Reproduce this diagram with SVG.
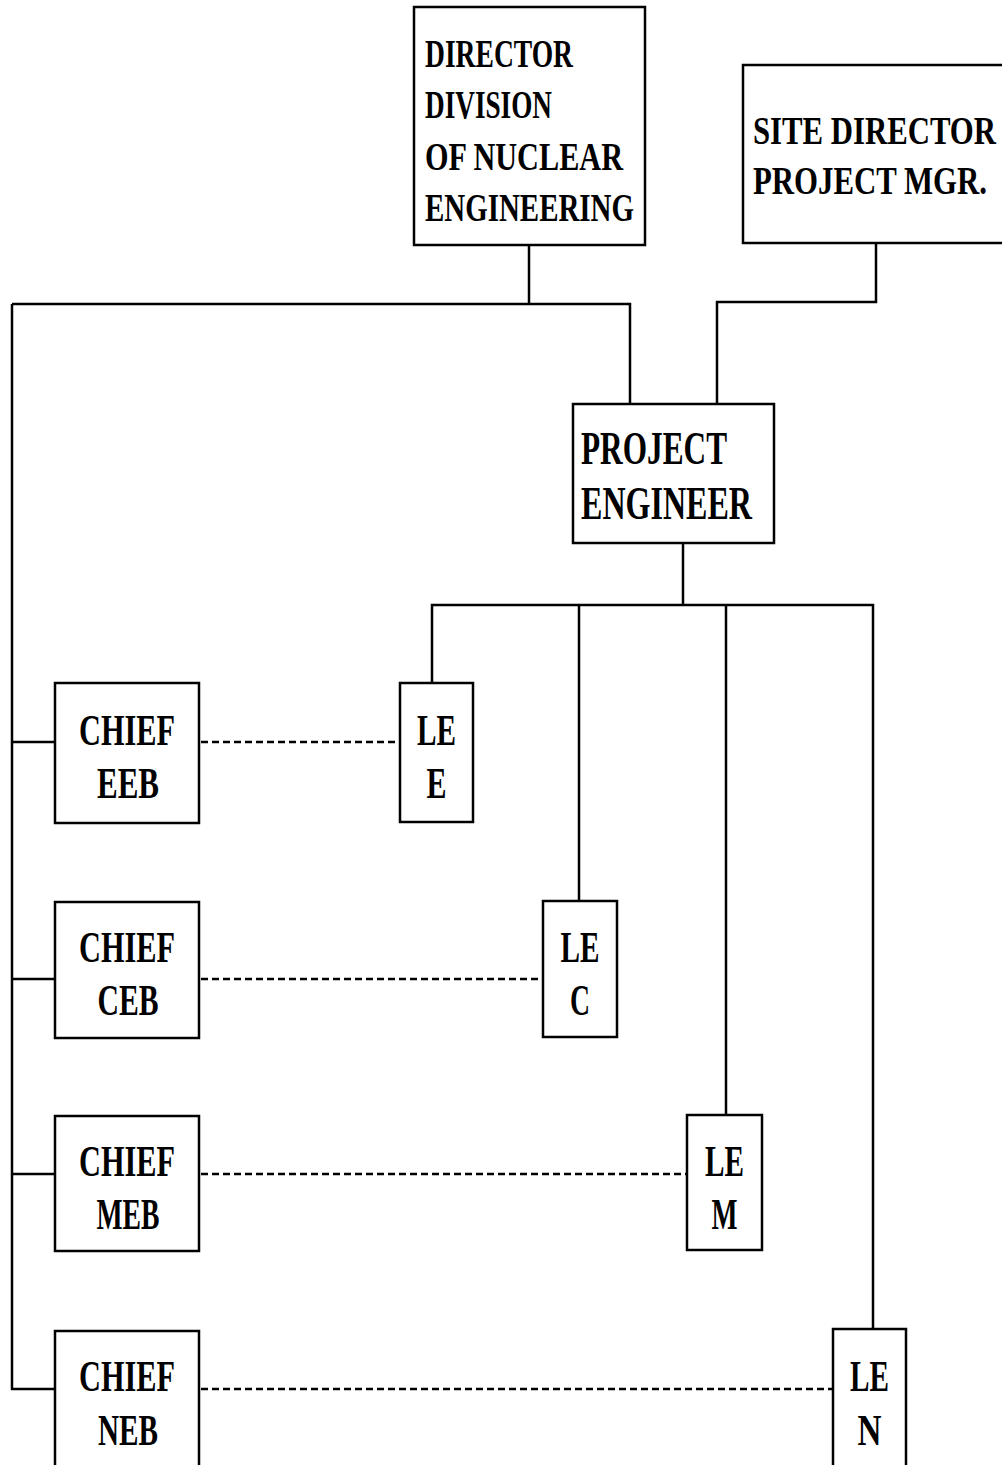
<svg xmlns="http://www.w3.org/2000/svg" width="1002" height="1465" viewBox="0 0 1002 1465">
<style>
.box{fill:#fff;stroke:#000;stroke-width:2.5}
.ln{fill:none;stroke:#000;stroke-width:2.5}
.dot{fill:none;stroke:#000;stroke-width:2.5;stroke-dasharray:7 4}
text{font-family:"Liberation Serif","DejaVu Serif",serif;font-weight:bold;fill:#000}
.big{font-size:39px}
.med{font-size:44px}
.pe{font-size:46px}
.c{text-anchor:middle}
</style>
<rect width="1002" height="1465" fill="#fff"/>
<g id="connectors">
<path class="ln" d="M529,245 V304"/>
<path class="ln" d="M12,304 H630 V404"/>
<path class="ln" d="M12,304 V1389 H55"/>
<path class="ln" d="M12,742 H55"/>
<path class="ln" d="M12,979 H55"/>
<path class="ln" d="M12,1174 H55"/>
<path class="ln" d="M876,243 V302 H717 V404"/>
<path class="ln" d="M683,543 V605"/>
<path class="ln" d="M432,683 V605 H873 V1329"/>
<path class="ln" d="M579,605 V901"/>
<path class="ln" d="M726,605 V1115"/>
<path class="dot" d="M201,742 H400"/>
<path class="dot" d="M201,979 H543"/>
<path class="dot" d="M201,1174 H687"/>
<path class="dot" d="M201,1389 H833"/>
</g>
<g id="director">
<rect class="box" x="414" y="7" width="231" height="238"/>
<text class="big" x="425" y="67" textLength="148" lengthAdjust="spacingAndGlyphs">DIRECTOR</text>
<text class="big" x="425" y="118" textLength="127" lengthAdjust="spacingAndGlyphs">DIVISION</text>
<text class="big" x="425" y="170" textLength="198" lengthAdjust="spacingAndGlyphs">OF NUCLEAR</text>
<text class="big" x="425" y="221" textLength="209" lengthAdjust="spacingAndGlyphs">ENGINEERING</text>
</g>
<g id="site-director">
<rect class="box" x="743" y="65" width="280" height="178"/>
<text class="big" x="753" y="144" textLength="243" lengthAdjust="spacingAndGlyphs">SITE DIRECTOR</text>
<text class="big" x="753" y="194" textLength="234" lengthAdjust="spacingAndGlyphs">PROJECT MGR.</text>
</g>
<g id="project-engineer">
<rect class="box" x="573" y="404" width="201" height="139"/>
<text class="pe" x="581" y="464" textLength="146" lengthAdjust="spacingAndGlyphs">PROJECT</text>
<text class="pe" x="581" y="519" textLength="171" lengthAdjust="spacingAndGlyphs">ENGINEER</text>
</g>
<g id="chief-eeb">
<rect class="box" x="55" y="683" width="144" height="140"/>
<text class="med c" x="127" y="745" textLength="96" lengthAdjust="spacingAndGlyphs">CHIEF</text>
<text class="med c" x="128" y="798" textLength="62" lengthAdjust="spacingAndGlyphs">EEB</text>
</g>
<g id="le-e">
<rect class="box" x="400" y="683" width="73" height="139"/>
<text class="med c" x="436.5" y="745" textLength="39" lengthAdjust="spacingAndGlyphs">LE</text>
<text class="med c" x="436.5" y="798" textLength="20" lengthAdjust="spacingAndGlyphs">E</text>
</g>
<g id="chief-ceb">
<rect class="box" x="55" y="902" width="144" height="136"/>
<text class="med c" x="127" y="962" textLength="96" lengthAdjust="spacingAndGlyphs">CHIEF</text>
<text class="med c" x="128" y="1015" textLength="61" lengthAdjust="spacingAndGlyphs">CEB</text>
</g>
<g id="le-c">
<rect class="box" x="543" y="901" width="74" height="136"/>
<text class="med c" x="580" y="962" textLength="39" lengthAdjust="spacingAndGlyphs">LE</text>
<text class="med c" x="580" y="1015" textLength="20" lengthAdjust="spacingAndGlyphs">C</text>
</g>
<g id="chief-meb">
<rect class="box" x="55" y="1116" width="144" height="135"/>
<text class="med c" x="127" y="1176" textLength="96" lengthAdjust="spacingAndGlyphs">CHIEF</text>
<text class="med c" x="128" y="1229" textLength="63" lengthAdjust="spacingAndGlyphs">MEB</text>
</g>
<g id="le-m">
<rect class="box" x="687" y="1115" width="75" height="135"/>
<text class="med c" x="724.5" y="1176" textLength="39" lengthAdjust="spacingAndGlyphs">LE</text>
<text class="med c" x="724.5" y="1229" textLength="26" lengthAdjust="spacingAndGlyphs">M</text>
</g>
<g id="chief-neb">
<rect class="box" x="55" y="1331" width="144" height="160"/>
<text class="med c" x="127" y="1391" textLength="96" lengthAdjust="spacingAndGlyphs">CHIEF</text>
<text class="med c" x="128" y="1445" textLength="60" lengthAdjust="spacingAndGlyphs">NEB</text>
</g>
<g id="le-n">
<rect class="box" x="833" y="1329" width="73" height="160"/>
<text class="med c" x="869.5" y="1391" textLength="39" lengthAdjust="spacingAndGlyphs">LE</text>
<text class="med c" x="869.5" y="1445" textLength="24" lengthAdjust="spacingAndGlyphs">N</text>
</g>
</svg>
